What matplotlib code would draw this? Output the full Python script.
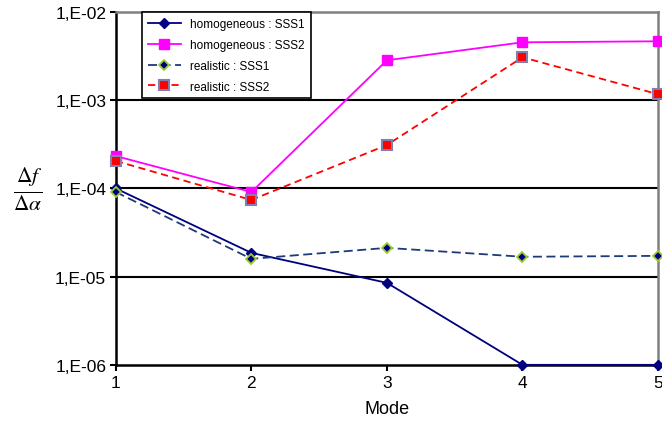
import matplotlib
matplotlib.use("Agg")
import matplotlib.pyplot as plt
from matplotlib.ticker import FixedLocator, FixedFormatter, NullLocator

plt.rcParams['font.family'] = ['Liberation Sans', 'DejaVu Sans']
plt.rcParams['mathtext.fontset'] = 'stix'

modes = [1, 2, 3, 4, 5]
hom_sss1 = [1.0e-4, 1.86e-5, 8.5e-6, 1.0e-6, 1.0e-6]
hom_sss2 = [2.33e-4, 9.1e-5, 2.84e-3, 4.54e-3, 4.66e-3]
real_sss1 = [9.1e-5, 1.59e-5, 2.12e-5, 1.68e-5, 1.72e-5]
real_sss2 = [2.05e-4, 7.4e-5, 3.11e-4, 3.07e-3, 1.17e-3]
ytick_vals = [1e-6, 1e-5, 1e-4, 1e-3, 1e-2]
ytick_labels = ["1,E-06", "1,E-05", "1,E-04", "1,E-03", "1,E-02"]
xtick_labels = ["1", "2", "3", "4", "5"]

fig = plt.figure(figsize=(6.62, 4.35), dpi=100)
ax = fig.add_axes([0.175, 0.159, 0.819, 0.811])
ax.set_yscale('log')
ax.set_ylim(1e-6, 1e-2)
ax.set_xlim(1, 5)

for v in ytick_vals[1:-1]:
    ax.axhline(v, color='black', lw=1.5, zorder=1)

ax.plot(modes, hom_sss1, color='#000080', lw=1.3, marker='D', ms=5,
        mfc='#000080', mec='#000080', label='homogeneous : SSS1', zorder=3, clip_on=False)
ax.plot(modes, hom_sss2, color='#FF00FF', lw=1.3, marker='s', ms=6.5,
        mfc='#FF00FF', mec='#FF00FF', label='homogeneous : SSS2', zorder=3, clip_on=False)
ax.plot(modes, real_sss1, color='#1F3A7A', lw=1.3, ls=(0, (5, 2.5)), marker='D', ms=5,
        mfc='#000080', mec='#9ACD32', mew=1.3, label='realistic : SSS1', zorder=3, clip_on=False)
ax.plot(modes, real_sss2, color='#FF0000', lw=1.3, ls=(0, (4, 2.5)), marker='s', ms=6.5,
        mfc='#FF0000', mec='#8080B0', mew=1.5, label='realistic : SSS2', zorder=3, clip_on=False)

ax.yaxis.set_major_locator(FixedLocator(ytick_vals))
ax.yaxis.set_major_formatter(FixedFormatter(ytick_labels))
ax.yaxis.set_minor_locator(NullLocator())
ax.set_xticks(modes)
ax.set_xticklabels(xtick_labels)
ax.tick_params(axis='both', labelsize=12.5, direction='out', length=4, width=1.5, colors='black')
ax.tick_params(axis='y', pad=3)

for s in ['left', 'bottom']:
    ax.spines[s].set_linewidth(1.8)
    ax.spines[s].set_color('black')
for s in ['top', 'right']:
    ax.spines[s].set_linewidth(1.8)
    ax.spines[s].set_color('#808080')

ax.set_xlabel('Mode', fontsize=13, labelpad=7)
fig.text(0.042, 0.565, r'$\frac{\Delta f}{\Delta \alpha}$', fontsize=22, ha='center', va='center')

leg = ax.legend(loc='upper left', bbox_to_anchor=(0.048, 1.0), borderaxespad=0, fontsize=8.5,
                frameon=True, fancybox=False, edgecolor='black', handlelength=2.8, borderpad=0.5,
                labelspacing=0.75, framealpha=1)
leg.get_frame().set_linewidth(1.2)

fig.savefig('out.png', dpi=100)
